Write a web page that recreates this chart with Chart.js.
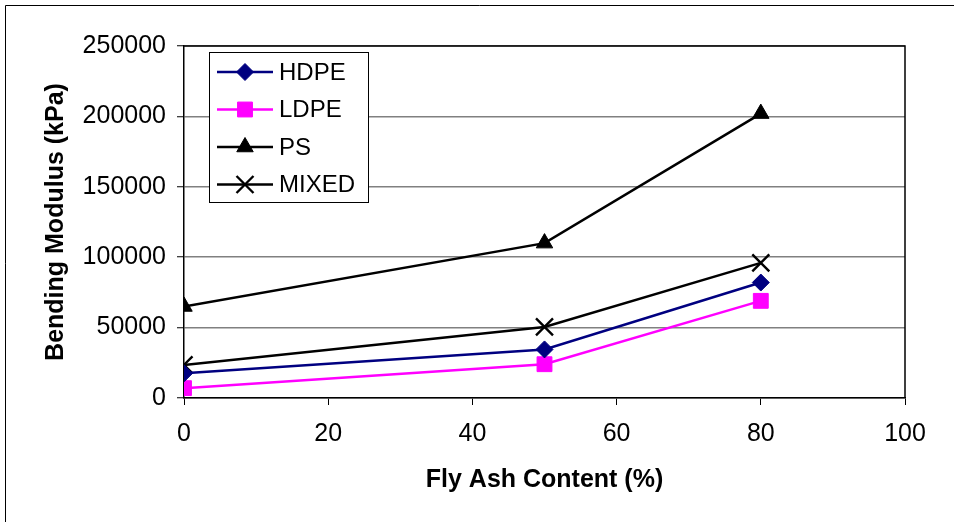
<!DOCTYPE html>
<html>
<head>
<meta charset="utf-8">
<script src="https://cdn.jsdelivr.net/npm/chart.js@4.4.0/dist/chart.umd.min.js"></script>
<style>
  html, body { margin: 0; padding: 0; background: #fff; }
  #wrap { width: 954px; height: 522px; position: relative; }
</style>
</head>
<body>
<div id="wrap"><canvas id="myChart" width="954" height="522"></canvas></div>
<script>
// data
const ashContent = [0, 50, 80];
const hdpe = [17500, 34500, 82000];
const ldpe = [7000, 24000, 69000];
const ps = [65000, 110000, 202000];
const mixed = [23500, 50500, 96000];

const xTicks = [0, 20, 40, 60, 80, 100];
const yTicks = [0, 50000, 100000, 150000, 200000, 250000];

const toPoints = (vals) => ashContent.map((x, i) => ({ x: x, y: vals[i] }));

const seriesStyle = [
  { label: 'HDPE', data: hdpe, color: '#000080', style: 'rectRot', r: 8.5, bw: 1 },
  { label: 'LDPE', data: ldpe, color: '#FF00FF', style: 'rect', r: 10.5, bw: 1 },
  { label: 'PS', data: ps, color: '#000000', style: 'triangle', r: 9.5, bw: 1 },
  { label: 'MIXED', data: mixed, color: '#000000', style: 'crossRot', r: 12, bw: 2.4 }
];

const datasets = seriesStyle.map(s => ({
  label: s.label,
  data: toPoints(s.data),
  borderColor: s.color,
  backgroundColor: s.color,
  borderWidth: 2.5,
  pointStyle: s.style,
  pointRadius: s.r,
  pointHoverRadius: s.r,
  pointBackgroundColor: s.color,
  pointBorderColor: s.color,
  pointBorderWidth: s.bw,
  showLine: true,
  tension: 0
}));

// outer frame + plot border
const framePlugin = {
  id: 'frame',
  beforeDraw(chart) {
    const ctx = chart.ctx;
    ctx.save();
    ctx.fillStyle = '#fff';
    ctx.fillRect(0, 0, chart.width, chart.height);
    ctx.strokeStyle = '#000';
    ctx.lineWidth = 1;
    ctx.beginPath();
    ctx.moveTo(5.5, chart.height);
    ctx.lineTo(5.5, 5.5);
    ctx.lineTo(chart.width, 5.5);
    ctx.stroke();
    ctx.restore();
  },
  beforeDatasetsDraw(chart) {
    const ctx = chart.ctx;
    const a = chart.chartArea;
    ctx.save();
    ctx.strokeStyle = '#000';
    ctx.lineWidth = 1.5;
    ctx.beginPath();
    ctx.moveTo(a.left, a.top);
    ctx.lineTo(a.right, a.top);
    ctx.lineTo(a.right, a.bottom);
    ctx.stroke();
    ctx.restore();
  }
};

// boxed legend inside the plot
const boxLegend = {
  id: 'boxLegend',
  afterDraw(chart) {
    const ctx = chart.ctx;
    const a = chart.chartArea;
    const x0 = a.left + 25, y0 = a.top + 6, w = 159, h = 150;
    ctx.save();
    ctx.fillStyle = '#fff';
    ctx.fillRect(x0, y0, w, h);
    ctx.strokeStyle = '#000';
    ctx.lineWidth = 1;
    ctx.strokeRect(x0 + 0.5, y0 + 0.5, w, h);
    ctx.font = '24px "Liberation Sans", Arial, sans-serif';
    ctx.textBaseline = 'middle';
    ctx.textAlign = 'left';
    chart.data.datasets.forEach((ds, i) => {
      const y = y0 + 20 + i * 37.5;
      ctx.strokeStyle = ds.borderColor;
      ctx.fillStyle = ds.borderColor;
      ctx.lineWidth = 2.5;
      ctx.beginPath();
      ctx.moveTo(x0 + 8, y);
      ctx.lineTo(x0 + 64, y);
      ctx.stroke();
      ctx.lineWidth = ds.pointBorderWidth;
      Chart.helpers.drawPoint(ctx, {
        pointStyle: ds.pointStyle,
        radius: ds.pointRadius,
        rotation: 0,
        borderWidth: ds.pointBorderWidth
      }, x0 + 36, y);
      ctx.fillStyle = '#000';
      ctx.fillText(ds.label, x0 + 70, y + 1);
    });
    ctx.restore();
  }
};

const font25 = { family: '"Liberation Sans", Arial, sans-serif', size: 25 };

const ctx = document.getElementById('myChart').getContext('2d');
const myChart = new Chart(ctx, {
  type: 'scatter',
  data: { datasets: datasets },
  options: {
    responsive: false,
    animation: false,
    events: [],
    layout: { padding: { left: 0, top: 46, right: 49, bottom: 0 } },
    plugins: {
      legend: { display: false },
      tooltip: { enabled: false }
    },
    scales: {
      x: {
        type: 'linear',
        min: 0,
        max: 100,
        afterBuildTicks: (scale) => { scale.ticks = xTicks.map(v => ({ value: v })); },
        afterFit: (scale) => { scale.height = 124; },
        ticks: { color: '#000', font: font25, padding: 14, maxRotation: 0 },
        grid: { drawOnChartArea: false, drawTicks: true, tickLength: 7, tickColor: '#000', tickWidth: 1 },
        border: { display: true, color: '#000', width: 1.5 },
        title: {
          display: true,
          text: 'Fly Ash Content (%)',
          color: '#000',
          font: { family: font25.family, size: 25, weight: 'bold' },
          padding: { top: 0, bottom: 27 }
        }
      },
      y: {
        min: 0,
        max: 250000,
        afterBuildTicks: (scale) => { scale.ticks = yTicks.map(v => ({ value: v })); },
        afterFit: (scale) => { scale.width = 184; },
        ticks: { color: '#000', font: font25, padding: 11, callback: (v) => String(v) },
        grid: { color: '#808080', lineWidth: 1.5, tickLength: 7, tickColor: '#000', tickWidth: 1 },
        border: { display: true, color: '#000', width: 1.5 },
        title: {
          display: true,
          text: 'Bending Modulus (kPa)',
          color: '#000',
          font: { family: font25.family, size: 25, weight: 'bold' },
          padding: { top: 41, bottom: 0 }
        }
      }
    }
  },
  plugins: [framePlugin, boxLegend]
});
</script>
</body>
</html>
